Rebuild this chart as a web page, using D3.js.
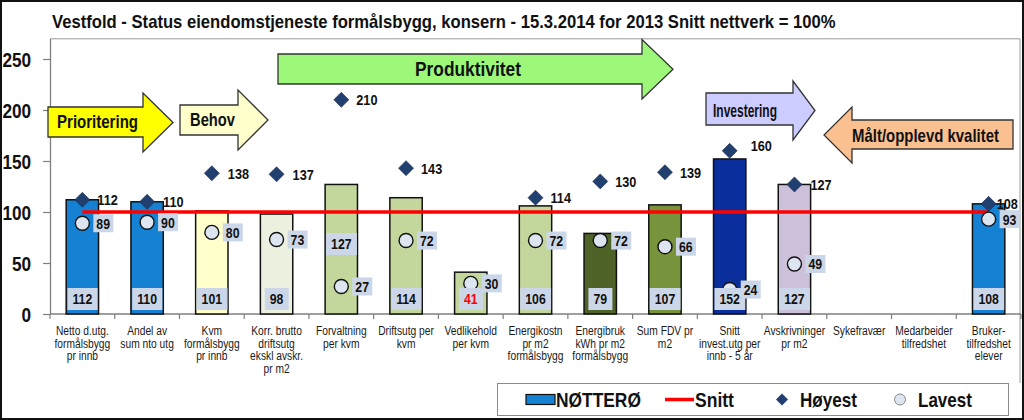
<!DOCTYPE html>
<html><head><meta charset="utf-8">
<script src="https://cdn.jsdelivr.net/npm/d3@7"></script>
<style>
body{margin:0;background:#fff}
svg{display:block}
</style></head><body>
<svg id="c" width="1024" height="420"></svg>
<script>
// ---------- DATA ----------
const categories = [
  "Netto d.utg.\nformålsbygg\npr  innb",
  "Andel av\nsum nto utg",
  "Kvm\nformålsbygg\npr innb",
  "Korr. brutto\ndriftsutg\nekskl avskr.\npr m2",
  "Forvaltning\nper kvm",
  "Driftsutg per\nkvm",
  "Vedlikehold\nper kvm",
  "Energikostn\npr m2\nformålsbygg",
  "Energibruk\nkWh pr m2\nformålsbygg",
  "Sum FDV pr\nm2",
  "Snitt\ninvest.utg per\ninnb - 5 år",
  "Avskrivninger\npr m2",
  "Sykefravær",
  "Medarbeider\ntilfredshet",
  "Bruker-\ntilfredshet\nelever"
];
const notteroe = [112, 110, 101, 98, 127, 114, 41, 106, 79, 107, 152, 127, null, null, 108];
const snitt    = [100, 100, 100, 100, 100, 100, 100, 100, 100, 100, 100, 100, 100, 100, 100];
const hoyest   = [112, 110, 138, 137, 210, 143, null, 114, 130, 139, 160, 127, null, null, 108];
const lavest   = [89, 90, 80, 73, 27, 72, 30, 72, 72, 66, 24, 49, null, null, 93];
const yTicks   = [0, 50, 100, 150, 200, 250];
const seriesNames = ["NØTTERØ", "Snitt", "Høyest", "Lavest"];
const title = "Vestfold - Status eiendomstjeneste formålsbygg, konsern - 15.3.2014 for 2013 Snitt nettverk = 100%";

// ---------- STYLES / LABEL PLACEMENT ----------
const BLUE = "#1581D2";
const barColors = [BLUE, BLUE, "#FFFFCC", "#EBF1DE", "#C3D69B", "#C3D69B", "#C3D69B", "#C3D69B",
                   "#4F6228", "#77933C", "#0A2E9C", "#CCC0DA", BLUE, BLUE, BLUE];
const barLabelColors = notteroe.map(v => (v !== null && v < 50) ? "#FF0000" : "#111");
// bar label vertical anchor (value units): near base, except Forvaltning label moved up
const barLabelAt = [14.7, 14.7, 14.7, 14.7, 68.6, 14.7, 14.7, 14.7, 14.7, 14.7, 14.7, 14.7, 14.7, 14.7, 14.7];
// highest label offsets (px)
const hiLabelDx = [15, 16, 16, 16, 15, 15, 15, 15, 15, 15, 21, 16, 15, 15, 8];
const hiLabelDy = [0, 0, 0, 0, 0, 0, 0, 0, 0, 0, -5, 0, 0, 0, 0];
const FONT = "'Liberation Sans', Arial, sans-serif";
const SX = 0.82; // narrow-font emulation
const LABELBOX = "#CBD7E8";
const DIAMOND = "#22406F";
const CIRCLE = "#DDE5F1";

const svg = d3.select("#c");
svg.append("rect").attr("x", 0).attr("y", 0).attr("width", 1024).attr("height", 420).attr("fill", "#fff");

// scales
const x = d3.scaleBand().domain(d3.range(categories.length)).range([50, 1021]).padding(0);
const cx = i => x(i) + x.bandwidth() / 2;
const y = d3.scaleLinear().domain([0, 270]).range([314, 38.6]);

// narrow text helper
function ntext(parent, tx, ty, str, o = {}) {
  const g = parent.append("g").attr("transform", `translate(${tx},${ty}) scale(${o.sx || SX},1)`);
  const t = g.append("text").attr("x", 0).attr("y", 0).attr("dy", o.dy === undefined ? "0.36em" : o.dy)
    .attr("text-anchor", o.anchor || "start").attr("font-family", FONT)
    .attr("font-weight", o.weight || "bold").attr("font-size", o.size || 15)
    .attr("fill", o.color || "#111").text(str);
  return {g, t};
}
// text squeezed horizontally to a target width
function fitText(parent, tx, ty, str, width, size, anchor) {
  const g = parent.append("g");
  const t = g.append("text").attr("x", 0).attr("y", 0).attr("dy", "0.36em")
    .attr("text-anchor", anchor || "start").attr("font-family", FONT)
    .attr("font-weight", "bold").attr("font-size", size).attr("fill", "#111").text(str);
  const w = t.node().getComputedTextLength();
  g.attr("transform", `translate(${tx},${ty}) scale(${Math.min(1, width / w)},1)`);
  return g;
}

// title
fitText(svg, 52, 22, title, 784, 18, "start");

// plot frame (top and right)
svg.append("line").attr("x1", 50).attr("x2", 1020).attr("y1", 38.8).attr("y2", 38.8)
  .attr("stroke", "#9a9a9a").attr("stroke-width", 1);
svg.append("line").attr("x1", 1020).attr("x2", 1020).attr("y1", 38.8).attr("y2", 383)
  .attr("stroke", "#9a9a9a").attr("stroke-width", 1);

// y axis
const yAxis = svg.append("g").attr("transform", "translate(50,0)")
  .call(d3.axisLeft(y).tickValues(yTicks).tickSize(7).tickSizeOuter(0).tickPadding(16));
yAxis.select(".domain").attr("stroke", "#7f7f7f").attr("stroke-width", 1.3);
yAxis.selectAll(".tick line").attr("stroke", "#7f7f7f").attr("stroke-width", 1.2);
yAxis.selectAll(".tick text").attr("font-family", FONT).attr("font-weight", "bold")
  .attr("font-size", 21).attr("fill", "#111").attr("dy", "0.36em")
  .attr("transform", `scale(${SX},1)`);

// x axis line + ticks
svg.append("line").attr("x1", 50).attr("x2", 1021).attr("y1", y(0)).attr("y2", y(0))
  .attr("stroke", "#7f7f7f").attr("stroke-width", 1.3);
svg.append("g").selectAll("line").data(d3.range(categories.length + 1)).join("line")
  .attr("x1", i => 50 + i * x.step()).attr("x2", i => 50 + i * x.step())
  .attr("y1", y(0)).attr("y2", y(0) + 5)
  .attr("stroke", "#7f7f7f").attr("stroke-width", 1.2);

// category labels
const catG = svg.append("g");
categories.forEach((c, i) => {
  const {t} = ntext(catG, cx(i), 335, "", {anchor: "middle", weight: "normal", size: 12.5, color: "#1a1a1a", dy: 0});
  c.split("\n").forEach((ln, k) => {
    t.append("tspan").attr("x", 0).attr("dy", k === 0 ? 0 : 12.6).text(ln);
  });
});

// arrows (annotation shapes)
const arrows = [
  {label: "Prioritering", dir: 1, bx0: 48, bx1: 143, tip: 173, by0: 107, by1: 137, hy0: 93, hy1: 152, fill: "#FFFF00", tx: 97.5, ty: 122, tl: 81, fs: 18},
  {label: "Behov", dir: 1, bx0: 180, bx1: 238, tip: 268, by0: 105, by1: 135, hy0: 90, hy1: 150, fill: "#FFFFCC", tx: 212.5, ty: 120, tl: 45, fs: 18},
  {label: "Produktivitet", dir: 1, bx0: 278, bx1: 642, tip: 673, by0: 54, by1: 84, hy0: 39.5, hy1: 99, fill: "#9DF779", tx: 468, ty: 69, tl: 106, fs: 20},
  {label: "Investering", dir: 1, bx0: 706, bx1: 793, tip: 815, by0: 93, by1: 125, hy0: 81, hy1: 140, fill: "#CCCCFF", tx: 745, ty: 111, tl: 64, fs: 18},
  {label: "Målt/opplevd kvalitet", dir: -1, bx0: 852, bx1: 1013, tip: 824, by0: 120, by1: 149, hy0: 107, hy1: 163, fill: "#FAC090", tx: 925.5, ty: 136, tl: 147, fs: 18}
];
const arrG = svg.append("g");
arrows.forEach(a => {
  const m = (a.hy0 + a.hy1) / 2;
  let p;
  if (a.dir > 0) {
    p = `M${a.bx0},${a.by0}L${a.bx1},${a.by0}L${a.bx1},${a.hy0}L${a.tip},${m}L${a.bx1},${a.hy1}L${a.bx1},${a.by1}L${a.bx0},${a.by1}Z`;
  } else {
    p = `M${a.bx1},${a.by0}L${a.bx0},${a.by0}L${a.bx0},${a.hy0}L${a.tip},${m}L${a.bx0},${a.hy1}L${a.bx0},${a.by1}L${a.bx1},${a.by1}Z`;
  }
  arrG.append("path").attr("d", p).attr("fill", a.fill).attr("stroke", "#333").attr("stroke-width", 1.3);
  fitText(arrG, a.tx, a.ty, a.label, a.tl, a.fs, "middle");
});

// bars
const bw = x.bandwidth() * 0.5;
svg.append("g").selectAll("rect").data(notteroe.map((v, i) => ({v, i})).filter(d => d.v !== null)).join("rect")
  .attr("x", d => cx(d.i) - bw / 2).attr("width", bw)
  .attr("y", d => y(d.v)).attr("height", d => y(0) - y(d.v))
  .attr("fill", d => barColors[d.i]).attr("stroke", "#111").attr("stroke-width", 1.5);

// snitt line
svg.append("path").datum(snitt)
  .attr("d", d3.line().x((d, i) => cx(i)).y(d => y(d)))
  .attr("fill", "none").attr("stroke", "#FF0000").attr("stroke-width", 3.5);

// highest diamonds
const dia = h => `M0,${-h}L${h},0L0,${h}L${-h},0Z`;
const hiData = hoyest.map((v, i) => ({v, i})).filter(d => d.v !== null);
svg.append("g").selectAll("path").data(hiData).join("path")
  .attr("transform", d => `translate(${cx(d.i)},${y(d.v)})`)
  .attr("d", dia(7.5)).attr("fill", DIAMOND).attr("stroke", "#16294a").attr("stroke-width", 0.6);

// lowest circles
const loData = lavest.map((v, i) => ({v, i})).filter(d => d.v !== null);
svg.append("g").selectAll("circle").data(loData).join("circle")
  .attr("cx", d => cx(d.i)).attr("cy", d => y(d.v)).attr("r", 7)
  .attr("fill", CIRCLE).attr("stroke", "#111").attr("stroke-width", 1.4);

// boxed label helper
function boxedLabel(parent, tx, ty, txt, anchor, color, padX, padY) {
  const g = parent.append("g").attr("transform", `translate(${tx},${ty}) scale(${SX},1)`);
  const bg = g.append("rect").attr("fill", LABELBOX);
  const t = g.append("text").attr("x", 0).attr("y", 0).attr("dy", "0.36em").attr("text-anchor", anchor)
    .attr("font-family", FONT).attr("font-weight", "bold").attr("font-size", 15).attr("fill", color).text(txt);
  const b = t.node().getBBox();
  bg.attr("x", b.x - padX / SX).attr("y", -9 - padY).attr("width", b.width + 2 * padX / SX).attr("height", 18 + 2 * padY);
}

// bar value labels
const lblG = svg.append("g");
notteroe.forEach((v, i) => {
  if (v === null) return;
  boxedLabel(lblG, cx(i), y(barLabelAt[i]), String(v), "middle", barLabelColors[i], 5, 2);
});

// lowest labels
loData.forEach(d => boxedLabel(lblG, cx(d.i) + 14, y(d.v), String(d.v), "start", "#111", 3, 0));

// highest labels
hiData.forEach(d => ntext(lblG, cx(d.i) + hiLabelDx[d.i], y(d.v) + hiLabelDy[d.i], String(d.v), {size: 15.5}));

// legend
const lg = svg.append("g");
lg.append("rect").attr("x", 497.5).attr("y", 383.5).attr("width", 511).attr("height", 32)
  .attr("fill", "#fff").attr("stroke", "#8a8a8a").attr("stroke-width", 1);
const ly = 399.5;
lg.append("rect").attr("x", 526).attr("y", ly - 5).attr("width", 29).attr("height", 10)
  .attr("fill", BLUE).attr("stroke", "#111").attr("stroke-width", 1.2);
lg.append("line").attr("x1", 665).attr("x2", 694).attr("y1", ly).attr("y2", ly)
  .attr("stroke", "#FF0000").attr("stroke-width", 3.5);
lg.append("path").attr("transform", `translate(782,${ly})`).attr("d", dia(6)).attr("fill", DIAMOND);
lg.append("circle").attr("cx", 900).attr("cy", ly).attr("r", 5.5).attr("fill", CIRCLE).attr("stroke", "#888").attr("stroke-width", 1);
const legX = [556, 695, 800, 918];
const legW = [85, 39, 57, 54];
seriesNames.forEach((n, k) => fitText(lg, legX[k], ly, n, legW[k], 20, "start"));

// outer border
svg.append("rect").attr("x", 1).attr("y", 1).attr("width", 1022).attr("height", 418)
  .attr("fill", "none").attr("stroke", "#111").attr("stroke-width", 2);
</script>
</body></html>
